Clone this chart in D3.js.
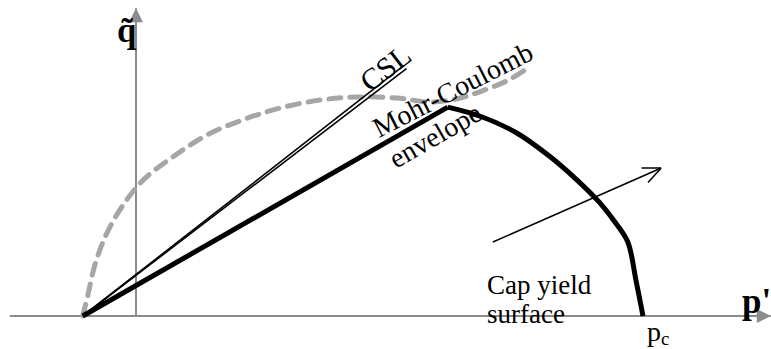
<!DOCTYPE html>
<html><head><meta charset="utf-8">
<script src="https://cdn.jsdelivr.net/npm/d3@7"></script>
<style>html,body{margin:0;padding:0;background:#fff}svg{display:block}text{font-family:"Liberation Serif","Times New Roman",serif}</style>
</head><body><svg id="c" width="771" height="349"></svg>
<script>
// Data (p', q~ units; p_c = 100)
const apex = [-10.5, 0];
const cslEnd = [53.1, 49.1];
const mcPeak = [61.5, 41.2];
const capCurve = [[61.5,41.2],[67.9,39.4],[75.1,36.1],[81.7,31.4],[87.0,26.8],[91.5,22.3],[94.5,18.5],[97.0,14.6],[98.6,7.1],[100,0]];
const dashedCurve = [[-10.5,0],[-9.5,4.1],[-8.1,10.1],[-5.9,16.0],[-2.8,21.5],[1.4,26.8],[7.3,31.4],[14.0,35.7],[21.1,38.7],[28.4,41.0],[36.3,42.6],[43.6,43.2],[51.5,43.0],[58.0,42.2],[63.9,43.0],[68.8,44.6],[73.4,46.5],[77.3,48.9]];
const loadArrow = [[70.4,14.6],[103.6,29.2]];
const pAxis = [-24.9, 125.2];
const qAxis = [0, 60.7];
const pc = 100;

const svg = d3.select("#c");
const x = d3.scaleLinear().domain([0, 100]).range([136, 643]);
const y = d3.scaleLinear().domain([0, 100]).range([316, 316 - 507]);
const line = d3.line().x(d => x(d[0])).y(d => y(d[1]));

const defs = svg.append("defs");
defs.append("marker").attr("id","ga").attr("viewBox","0 0 10 10").attr("refX",10).attr("refY",5)
  .attr("markerWidth",16).attr("markerHeight",14).attr("markerUnits","userSpaceOnUse").attr("orient","auto")
  .append("path").attr("d","M0,0 L10,5 L0,10 Z").attr("fill","#8c8c8c");
defs.append("marker").attr("id","oa").attr("viewBox","0 0 20 20").attr("refX",20).attr("refY",10)
  .attr("markerWidth",20).attr("markerHeight",20).attr("markerUnits","userSpaceOnUse").attr("orient","auto")
  .append("path").attr("d","M2,2 L20,10 L2,18").attr("fill","none").attr("stroke","#000").attr("stroke-width",1.5);

// axes
svg.append("path").attr("d", line([[pAxis[0],0],[pAxis[1],0]])).attr("stroke","#8c8c8c").attr("stroke-width",2).attr("marker-end","url(#ga)");
svg.append("path").attr("d", line([[0,qAxis[0]],[0,qAxis[1]]])).attr("stroke","#8c8c8c").attr("stroke-width",2).attr("marker-end","url(#ga)");

// dashed curve
svg.append("path").attr("d", d3.line().curve(d3.curveCatmullRom).x(d=>x(d[0])).y(d=>y(d[1]))(dashedCurve))
  .attr("fill","none").attr("stroke","#a6a6a6").attr("stroke-width",5).attr("stroke-dasharray","12,9").attr("stroke-linecap","round");

// CSL double line
{
  const x0 = x(apex[0]), y0 = y(apex[1]), x1 = x(cslEnd[0]), y1 = y(cslEnd[1]);
  const dx = x1-x0, dy = y1-y0, L = Math.hypot(dx,dy), nx = -dy/L*2, ny = dx/L*2;
  [[nx,ny],[-nx,-ny]].forEach(o => svg.append("line").attr("x1",x0).attr("y1",y0).attr("x2",x1+o[0]).attr("y2",y1+o[1]).attr("stroke","#000").attr("stroke-width",1.6));
}

// Mohr-Coulomb + cap
svg.append("path").attr("d", line([apex, mcPeak])).attr("stroke","#000").attr("stroke-width",5).attr("fill","none");
svg.append("path").attr("d", d3.line().curve(d3.curveCatmullRom).x(d=>x(d[0])).y(d=>y(d[1]))(capCurve))
  .attr("stroke","#000").attr("stroke-width",5).attr("fill","none");

// loading arrow
svg.append("path").attr("d", line(loadArrow)).attr("stroke","#000").attr("stroke-width",1.5).attr("fill","none").attr("marker-end","url(#oa)");

// labels
function rot(t, px, py, a, size){ return svg.append("text").attr("transform",`translate(${px},${py}) rotate(${a})`).attr("font-size",size).text(t); }
rot("CSL", 370, 93, -38, 30);
rot("Mohr-Coulomb", 379, 138, -27, 28);
rot("envelope", 396, 169, -30, 28);
svg.append("text").attr("x",487).attr("y",294).attr("font-size",27).text("Cap yield");
svg.append("text").attr("x",487).attr("y",323).attr("font-size",27).text("surface");
const pcT = svg.append("text").attr("x",x(pc)+4).attr("y",341).attr("font-size",28);
pcT.append("tspan").text("p");
pcT.append("tspan").attr("font-size",19).attr("dy",4).text("c");
svg.append("text").attr("x",117).attr("y",42).attr("font-size",35).attr("font-weight","bold").text("q\u0303");
svg.append("text").attr("x",742).attr("y",313).attr("font-size",35).attr("font-weight","bold").text("p'");
</script></body></html>
